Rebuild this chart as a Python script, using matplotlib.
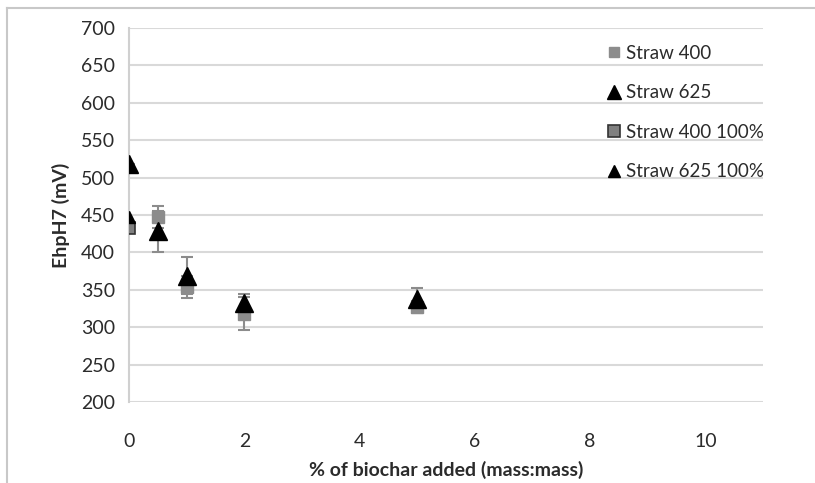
import numpy as np
import matplotlib
matplotlib.use("Agg")
import matplotlib.pyplot as plt
from matplotlib.lines import Line2D

plt.rcParams['font.family'] = ['Lato', 'DejaVu Sans']

# data
x_400 = [0.5, 1, 2, 5]
y_400 = [447, 354, 318, 327]
e_400 = [15, 15, 22, 8]

x_625 = [0, 0.5, 1, 2, 5]
y_625 = [518, 428, 369, 332, 338]
e_625 = [0, 28, 25, 13, 14]

x_400_100 = [0]
y_400_100 = [432]

x_625_100 = [0]
y_625_100 = [447]

labels = ["Straw 400", "Straw 625", "Straw 400 100%", "Straw 625 100%"]

fig = plt.figure(figsize=(8.15, 4.83), dpi=100)
ax = fig.add_axes([129/815, 1 - 402/483, (763 - 129)/815, (402 - 28)/483])

err_col = '#8c8c8c'
ax.errorbar(x_400, y_400, yerr=e_400, fmt='s', color='#8c8c8c', ms=8, mec='#8c8c8c',
            ecolor=err_col, elinewidth=1.5, capsize=4, capthick=1.5, zorder=3)
ax.errorbar(x_625, y_625, yerr=e_625, fmt='^', color='black', ms=12.5,
            ecolor=err_col, elinewidth=1.5, capsize=4, capthick=1.5, zorder=4)
ax.plot(x_400_100, y_400_100, 's', color='#808080', mec='#333333', mew=1.2, ms=9, zorder=5)
ax.plot(x_625_100, y_625_100, '^', color='black', ms=8, zorder=6)

ax.set_xlim(0, 11)
ax.set_ylim(200, 700)
ax.set_xticks(np.arange(0, 11, 2))
ax.set_yticks(np.arange(200, 701, 50))
ax.grid(axis='y', color='#d9d9d9', linewidth=1.5)
ax.set_axisbelow(True)
for s in ['top', 'right', 'bottom']:
    ax.spines[s].set_visible(False)
ax.spines['left'].set_color('#d0d0d0')
ax.spines['left'].set_linewidth(1.5)
ax.tick_params(length=0, labelsize=14, colors='#2b2b2b', pad=10)
ax.tick_params(axis='x', pad=22)

ax.set_xlabel("% of biochar added (mass:mass)", fontsize=14, fontweight='bold', color='#2b2b2b', labelpad=8)
ax.set_ylabel("EhpH7 (mV)", fontsize=14, fontweight='bold', color='#2b2b2b', labelpad=8)

handles = [
    Line2D([], [], ls='', marker='s', color='#8c8c8c', ms=7),
    Line2D([], [], ls='', marker='^', color='black', ms=10),
    Line2D([], [], ls='', marker='s', color='#808080', mec='#333333', mew=1.2, ms=8),
    Line2D([], [], ls='', marker='^', color='black', ms=8),
]
leg = ax.legend(handles, labels, loc='upper left', bbox_to_anchor=(0.745, 0.975), frameon=False,
                fontsize=13.5, handlelength=0.6, handletextpad=0.3, labelspacing=1.2,
                borderaxespad=0)
for t in leg.get_texts():
    t.set_color('#2b2b2b')

# outer frame lines (left and top)
fig.add_artist(Line2D([7/815, 7/815], [0, 1 - 8/483], transform=fig.transFigure, color='#c8c8c8', lw=1.5))
fig.add_artist(Line2D([7/815, 1], [1 - 8/483, 1 - 8/483], transform=fig.transFigure, color='#c8c8c8', lw=1.5))

fig.savefig("out.png", dpi=100)
